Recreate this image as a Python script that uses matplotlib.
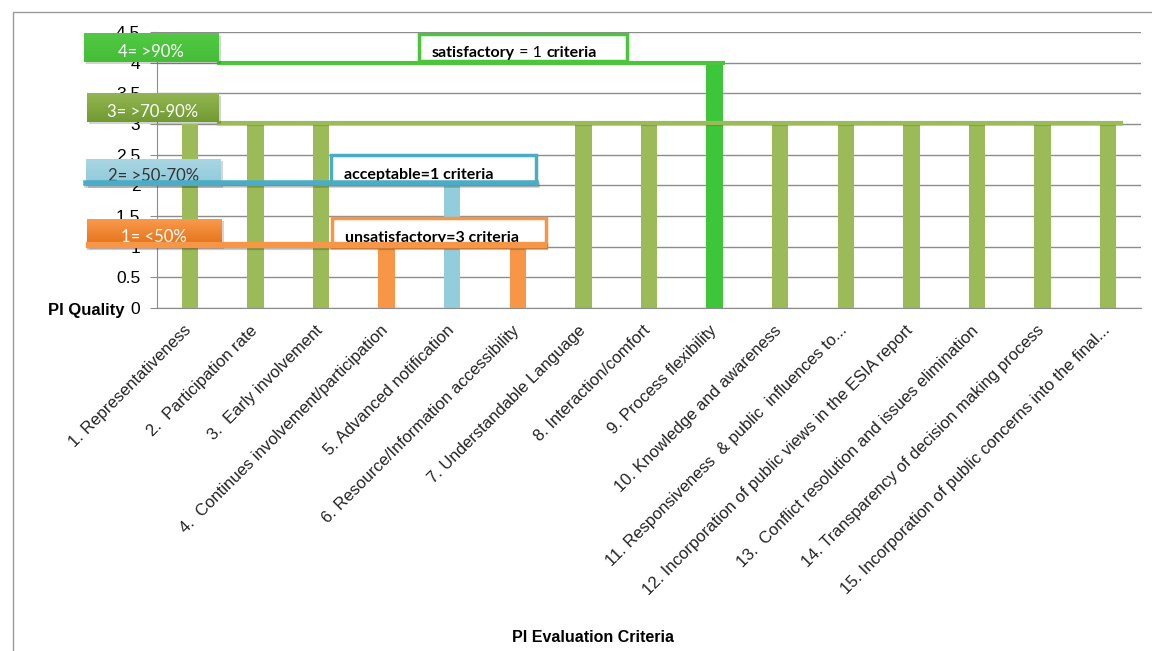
import matplotlib.pyplot as plt
import matplotlib.patheffects as pe
import matplotlib.transforms as mtransforms
import numpy as np
from matplotlib.colors import LinearSegmentedColormap
from matplotlib.patches import Rectangle

plt.rcParams['font.family'] = ['Liberation Sans', 'DejaVu Sans']

# criteria and their PI quality scores
criteria = [
    "1. Representativeness",
    "2.  Participation rate",
    "3.  Early involvement",
    "4.  Continues involvement/participation",
    "5. Advanced notification",
    "6. Resource/Information accessibility",
    "7. Understandable Language",
    "8. Interaction/comfort",
    "9. Process flexibility",
    "10. Knowledge and awareness",
    "11. Responsiveness  & public  influences to...",
    "12. Incorporation of public views in the ESIA report",
    "13.  Conflict resolution and issues elimination",
    "14. Transparency of decision making process",
    "15. Incorporation of public concerns into the final...",
]
scores = [3, 3, 3, 1, 2, 1, 3, 3, 4, 3, 3, 3, 3, 3, 3]

# quality levels
levels = [1, 2, 3, 4]
level_labels = ["1= <50%", "2= >50-70%", "3= >70-90%", "4= >90%"]
bar_colors = {1: "#f79646", 2: "#92cddc", 3: "#9bbb59", 4: "#3ec63a"}

fig = plt.figure(figsize=(11.52, 6.51), dpi=100)
ax = fig.add_axes([157/1152, 1-308/651, 984/1152, 276/651])

x = list(range(len(criteria)))
ax.bar(x, scores, width=0.25, color=[bar_colors[s] for s in scores], zorder=2)

ax.set_yticks([i * 0.5 for i in range(10)])
ax.set_yticklabels(["0", "0.5", "1", "1.5", "2", "2.5", "3", "3.5", "4", "4.5"], fontsize=12.5)
ax.yaxis.grid(True, color="#8c8c8c", lw=1)
ax.set_axisbelow(True)
ax.tick_params(axis='y', length=5, color="#8c8c8c", pad=7)
ax.tick_params(axis='x', length=0)
for s in ["top", "right"]:
    ax.spines[s].set_visible(False)
ax.spines["left"].set_color("#8c8c8c")
ax.spines["bottom"].set_color("#8c8c8c")

ax.set_xticks(x)
ax.set_xticklabels(criteria, rotation=45, ha="right", va="top", rotation_mode="anchor",
                   fontsize=12, color="#222222")
shift = mtransforms.ScaledTranslation(-6/100, -10/100, fig.dpi_scale_trans)
for lab in ax.get_xticklabels():
    lab.set_transform(lab.get_transform() + shift)

# outer chart frame
fig.patches.append(Rectangle((13/1152, -0.1), 1.2, 1 - 12/651 + 0.1, transform=fig.transFigure,
                             fill=False, edgecolor="#9a9a9a", lw=1))

fig.text(125/1152, 1-311/651, "PI Quality", ha="right", va="center",
         fontsize=12, fontweight="bold")
fig.text(593/1152, 1-638/651, "PI Evaluation Criteria", ha="center", va="center",
         fontsize=11.5, fontweight="bold")

def px2x(px):
    return (px - 189) / 65.6

shadow = [pe.SimplePatchShadow(offset=(1.5, -1.5), alpha=0.2), pe.Normal()]

# level key boxes: (left px, right px, bottom, top, top colour, bottom colour, text colour)
key_boxes = {
    4: (83, 218, 4.01, 4.47, "#52c944", "#45bd37", "white"),
    3: (86, 218, 3.03, 3.49, "#93b652", "#719a32", "white"),
    2: (85, 220, 1.99, 2.43, "#a9d6e3", "#8ec8d9", "#333333"),
    1: (86, 221, 1.00, 1.45, "#f89a4c", "#e46f14", "white"),
}
grad = np.linspace(0, 1, 32).reshape(-1, 1)
for lv, lab in zip(levels, level_labels):
    l, r, b, t, ctop, cbot, tc = key_boxes[lv]
    rect = Rectangle((px2x(l), b), px2x(r) - px2x(l), t - b, facecolor=cbot,
                     edgecolor="none", clip_on=False, zorder=5)
    rect.set_path_effects(shadow)
    ax.add_patch(rect)
    cmap = LinearSegmentedColormap.from_list("g%d" % lv, [ctop, cbot])
    ax.imshow(grad, cmap=cmap, extent=(px2x(l), px2x(r), b, t), aspect="auto",
              origin="upper", zorder=5.1, clip_on=False, interpolation="bilinear")
    ax.text((px2x(l) + px2x(r)) / 2, b + (t - b) * 0.36, lab, ha="center", va="center",
            color=tc, fontsize=12, family="Lato", zorder=6, clip_on=False)

# summary boxes; each text is a list of (piece, weight)
summary = [
    (418, 626, 4.03, 4.47, "#4cc43c",
     [("satisfactory", "bold"), (" = 1 ", "normal"), ("criteria", "bold")]),
    (330, 535, 2.02, 2.50, "#4bacc6", [("acceptable=1 criteria", "bold")]),
    (331, 545, 1.00, 1.47, "#f79646", [("unsatisfactory=3 criteria", "bold")]),
]
for l, r, b, t, ec, pieces in summary:
    rect = Rectangle((px2x(l), b), px2x(r) - px2x(l), t - b, facecolor="white",
                     edgecolor=ec, lw=2.5, clip_on=False, zorder=5)
    ax.add_patch(rect)
    prev = None
    for txt, wt in pieces:
        if prev is None:
            prev = ax.text(px2x(l) + 0.2, b + (t - b) * 0.3, txt, ha="left", va="center",
                           fontsize=11.5, fontweight=wt, family="Lato", zorder=6)
        else:
            prev = ax.annotate(txt, xy=(1, 0), xycoords=prev, ha="left", va="bottom",
                               fontsize=11.5, fontweight=wt, family="Lato", zorder=6)

# level lines
ax.plot([px2x(218), 8.125], [4, 4], color="#4cc43c", lw=3, zorder=4, clip_on=False)
ax.plot([px2x(218), px2x(1120)], [3.02, 3.02], color="#9bbb59", lw=3, zorder=4,
        clip_on=False, path_effects=[pe.SimpleLineShadow(offset=(0, -1), alpha=0.15), pe.Normal()])
ax.plot([px2x(85), px2x(535)], [2.04, 2.04], color="#4bacc6", lw=4, zorder=7,
        clip_on=False, path_effects=[pe.SimpleLineShadow(offset=(1, -1.5), alpha=0.2), pe.Normal()])
ax.plot([px2x(88), px2x(543)], [1.03, 1.03], color="#f79646", lw=4.5, zorder=7,
        clip_on=False, path_effects=[pe.SimpleLineShadow(offset=(1, -1.5), alpha=0.2), pe.Normal()])

ax.set_xlim(-0.5, 14.5)
ax.set_ylim(0, 4.5)

fig.savefig("out.png", dpi=100)
